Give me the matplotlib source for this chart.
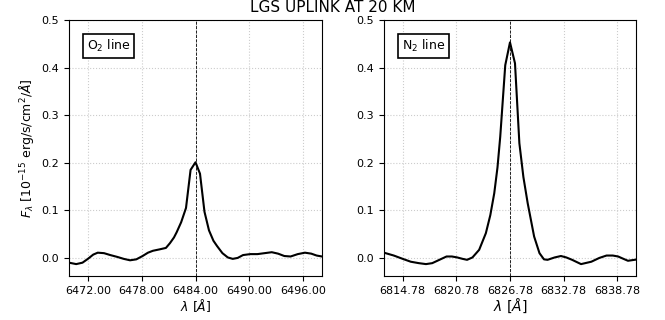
import numpy as np
from matplotlib import pyplot as plt

# line centres [A]
o2_center = 6484.00
n2_center = 6826.78

# O2 line: offset from centre [A] and flux [1e-15 erg/s/cm2/A]
o2_offset = [-14.1, -13.3, -12.6, -12.0, -11.4, -10.9, -10.2, -9.5, -8.7, -8.0,
             -7.3, -6.6, -5.9, -5.3, -4.75, -4.0, -3.3, -2.85, -2.4, -2.1,
             -1.6, -1.06, -0.55, 0.0, 0.5, 1.0, 1.5, 2.0, 2.4, 3.0,
             3.6, 4.15, 4.7, 5.3, 6.1, 6.9, 7.7, 8.5, 9.2, 9.9,
             10.6, 11.4, 12.2, 12.9, 13.5, 14.1]
o2_flux = [-0.010, -0.013, -0.010, -0.002, 0.007, 0.011, 0.010, 0.006, 0.002, -0.002,
           -0.005, -0.003, 0.004, 0.011, 0.015, 0.018, 0.021, 0.031, 0.043, 0.054,
           0.075, 0.105, 0.185, 0.201, 0.177, 0.097, 0.058, 0.036, 0.025, 0.010,
           0.001, -0.002, 0.000, 0.006, 0.008, 0.008, 0.010, 0.012, 0.009, 0.004,
           0.003, 0.008, 0.011, 0.009, 0.005, 0.003]

# N2 line
n2_offset = [-14.1, -13.0, -12.0, -11.1, -10.2, -9.4, -8.7, -7.9, -7.1, -6.5,
             -5.9, -5.3, -4.8, -4.2, -3.45, -2.7, -2.2, -1.76, -1.4, -1.09,
             -0.53, 0.0, 0.56, 1.05, 1.5, 1.98, 2.7, 3.3, 3.8, 4.2,
             5.0, 5.7, 6.3, 6.95, 7.95, 9.1, 10.0, 10.8, 11.5, 12.1,
             12.7, 13.2, 14.3]
n2_flux = [0.011, 0.005, -0.002, -0.008, -0.011, -0.013, -0.011, -0.004, 0.003, 0.003,
           0.001, -0.002, -0.004, 0.001, 0.017, 0.052, 0.090, 0.136, 0.190, 0.255,
           0.405, 0.453, 0.409, 0.241, 0.170, 0.115, 0.045, 0.010, -0.003, -0.004,
           0.001, 0.004, 0.001, -0.004, -0.013, -0.008, 0.000, 0.005, 0.005, 0.003,
           -0.002, -0.006, -0.003]

panels = [(o2_center, o2_offset, o2_flux, r'O$_2$ line', 9),
          (n2_center, n2_offset, n2_flux, r'N$_2$ line', 10)]

fig = plt.figure(figsize=(6.65, 3.2), dpi=100)
positions = [[0.1038, 0.1375, 0.3804, 0.8], [0.5774, 0.1375, 0.379, 0.8]]

for pos, (center, offset, flux, label, xl_size) in zip(positions, panels):
    ax = fig.add_axes(pos)
    wl = center + np.array(offset)
    ax.plot(wl, flux, 'k-', lw=1.5)
    ax.axvline(center, color='k', ls='--', lw=0.6)
    ax.set_xlim(center - 14.1, center + 14.1)
    ax.set_ylim(-0.038, 0.5)
    ax.set_xticks(center + np.arange(-12, 13, 6))
    ax.xaxis.set_major_formatter(plt.FormatStrFormatter('%.2f'))
    ax.set_yticks(np.arange(0, 0.51, 0.1))
    ax.yaxis.set_major_formatter(plt.FormatStrFormatter('%.1f'))
    ax.tick_params(labelsize=8)
    ax.grid(True, ls=':', color='#cccccc', lw=0.8)
    ax.set_xlabel(r'$\lambda\ [\AA]$', fontsize=xl_size, labelpad=1)
    ax.text(0.07, 0.93, label, transform=ax.transAxes, fontsize=9,
            ha='left', va='top',
            bbox=dict(boxstyle='square,pad=0.3', fc='white', ec='black', lw=1.2))
    if center == o2_center:
        ax.set_ylabel(r'$F_\lambda$ [$10^{-15}$ erg/s/cm$^2$/$\AA$]', fontsize=9)

fig.suptitle('LGS UPLINK AT 20 KM', fontsize=11, y=1.0)
fig.savefig('out.png', dpi=100)
